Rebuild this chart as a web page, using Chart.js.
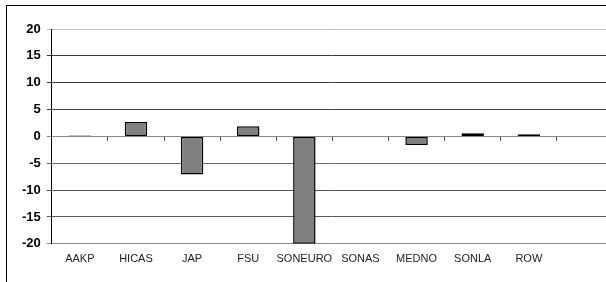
<!DOCTYPE html>
<html><head><meta charset="utf-8">
<script src="https://cdn.jsdelivr.net/npm/chart.js@4/dist/chart.umd.min.js"></script>
<style>
html,body{margin:0;padding:0;background:#fff;overflow:hidden;width:606px;height:282px;}
#box{position:absolute;left:6px;top:5px;width:640px;height:290px;border-left:1px solid #000;border-top:1px solid #000;}
canvas{display:block;}
</style></head><body>
<div id="box"><canvas id="c" width="640" height="290"></canvas></div>
<script>
const categories = ['AAKP','HICAS','JAP','FSU','SONEURO','SONAS','MEDNO','SONLA','ROW',''];
const values = [0.15, 2.7, -7.1, 1.9, -20, 0, -1.6, 0.6, 0.4, null];
const yTicks = [20,15,10,5,0,-5,-10,-15,-20];
const gridColors = {'20':'#bdbdbd','15':'#3a3a3a','10':'#3a3a3a','5':'#404040','0':'#888888','-5':'#6a6a6a','-10':'#555555','-15':'#5a5a5a','-20':'#8a8a8a'};

new Chart(document.getElementById('c'), {
  type: 'bar',
  data: {
    labels: categories,
    datasets: [{
      data: values,
      backgroundColor: '#808080',
      borderColor: '#000000',
      borderWidth: 1.5,
      borderSkipped: false,
      categoryPercentage: 1,
      barPercentage: 0.4
    }]
  },
  options: {
    responsive: false,
    animation: false,
    layout: { padding: { left: 9, right: 34, top: 23, bottom: 21 } },
    plugins: { legend: { display: false }, tooltip: { enabled: false } },
    scales: {
      x: {
        position: 'bottom',
        offset: true,
        grid: { display: false, drawTicks: false },
        border: { display: false },
        ticks: { color: '#222', font: { family: 'Liberation Sans, Arial', size: 11 }, padding: 9, maxRotation: 0, autoSkip: false }
      },
      x0: {
        type: 'category',
        position: { y: 0 },
        offset: true,
        grid: { display: true, drawOnChartArea: false, drawTicks: true, tickLength: 4, offset: true, color: '#444' },
        border: { display: true, color: '#888', width: 1 },
        ticks: { display: false }
      },
      y: {
        min: -20, max: 20,
        afterBuildTicks: s => { s.ticks = yTicks.map(v => ({ value: v })); },
        grid: {
          color: ctx => gridColors[String(ctx.tick && ctx.tick.value)] || '#555',
          tickLength: 5,
          lineWidth: 1
        },
        border: { display: true, color: '#000' },
        ticks: { color: '#000', font: { family: 'Liberation Sans, Arial', size: 13, weight: 'bold' }, padding: 6 }
      }
    }
  }
});
</script>
</body></html>
